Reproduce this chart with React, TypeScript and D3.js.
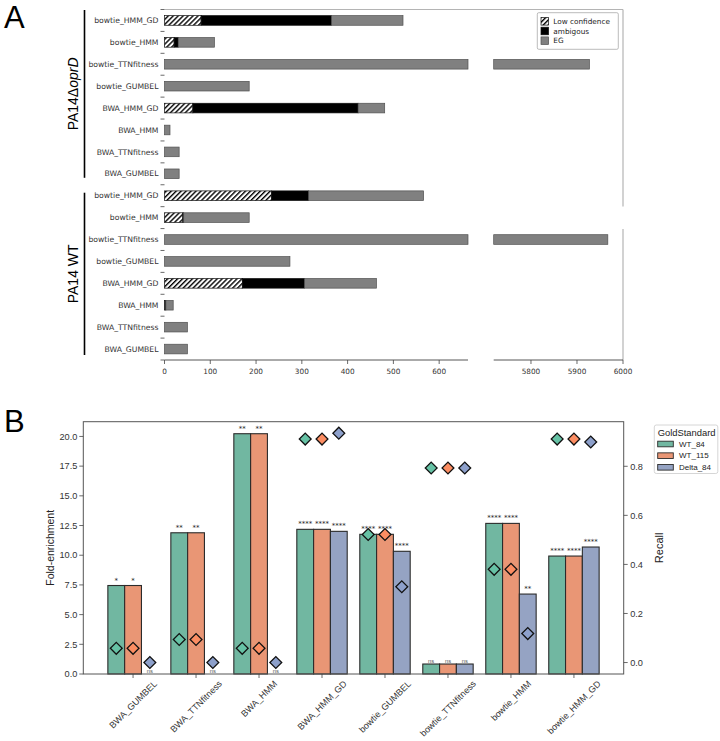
import * as d3 from 'd3';
import { useMemo } from 'react';

const WIDTH = 720;
const HEIGHT = 741;

// ---- Panel A: essential-gene calls per pipeline ----
const pipelines = [
    'bowtie_HMM_GD',
    'bowtie_HMM',
    'bowtie_TTNfitness',
    'bowtie_GUMBEL',
    'BWA_HMM_GD',
    'BWA_HMM',
    'BWA_TTNfitness',
    'BWA_GUMBEL',
];
const deltaLowConf = [80, 21, 0, 0, 62, 0, 0, 0];
const deltaAmbiguous = [285, 9, 0, 0, 361, 0, 0, 0];
const deltaEG = [156, 79, 5927, 185, 58, 12, 32, 32];
const wtLowConf = [234, 40, 0, 0, 170, 0, 0, 0];
const wtAmbiguous = [81, 2, 0, 0, 136, 3, 0, 0];
const wtEG = [251, 143, 5967, 274, 157, 16, 50, 50];
const leftTicksA = [0, 100, 200, 300, 400, 500, 600];
const rightTicksA = [5800, 5900, 6000];

// ---- Panel B: fold-enrichment (bars) and recall (diamonds) ----
const methodsB = [
    'BWA_GUMBEL',
    'BWA_TTNfitness',
    'BWA_HMM',
    'BWA_HMM_GD',
    'bowtie_GUMBEL',
    'bowtie_TTNfitness',
    'bowtie_HMM',
    'bowtie_HMM_GD',
];
const standards = ['WT_84', 'WT_115', 'Delta_84'];
const foldWT84 = [7.45, 11.89, 20.23, 12.18, 11.76, 0.84, 12.68, 9.93];
const foldWT115 = [7.45, 11.89, 20.23, 12.18, 11.76, 0.84, 12.68, 9.93];
const foldDelta84 = [0, 0, 0, 12.01, 10.33, 0.84, 6.73, 10.69];
const recallWT84 = [0.058, 0.094, 0.058, 0.911, 0.522, 0.793, 0.38, 0.911];
const recallWT115 = [0.058, 0.094, 0.058, 0.911, 0.522, 0.793, 0.38, 0.911];
const recallDelta84 = [0, 0, 0, 0.935, 0.309, 0.793, 0.118, 0.899];
const sigWT84 = ['*', '**', '**', '****', '****', 'ns', '****', '****'];
const sigWT115 = ['*', '**', '**', '****', '****', 'ns', '****', '****'];
const sigDelta84 = ['ns', 'ns', 'ns', '****', '****', 'ns', '**', '****'];
const foldTicks = [0, 2.5, 5, 7.5, 10, 12.5, 15, 17.5, 20];
const recallTicks = [0, 0.2, 0.4, 0.6, 0.8];

const markColors = ['#66c2a5', '#fc8d62', '#8da0cb'];
const barColors = ['#71b7a1', '#e99675', '#95a3c3'];

const FONT_A = '"DejaVu Sans", sans-serif';
const FONT_B = '"Liberation Sans", Arial, sans-serif';

// panel A frame
const A = { left: 164.5, breakL: 468, breakR: 493.7, right: 623, top: 9.5, bottom: 360 };
// panel B frame
const B = { left: 83.3, right: 623.7, top: 421.7, bottom: 674 };

let measureCtx: CanvasRenderingContext2D | null = null;
function textWidth(s: string, font: string) {
    if (!measureCtx) measureCtx = document.createElement('canvas').getContext('2d');
    if (!measureCtx) return s.length * 5;
    measureCtx.font = font;
    return measureCtx.measureText(s).width;
}

type Seg = { kind: 'low' | 'amb' | 'eg'; x0: number; x1: number };

function PanelA() {
    const rows = useMemo(() => {
        const make = (group: string, low: number[], amb: number[], eg: number[]) =>
            pipelines.map((p, i) => {
                const segs: Seg[] = [];
                let acc = 0;
                if (low[i] > 0) segs.push({ kind: 'low', x0: acc, x1: (acc += low[i]) });
                if (amb[i] > 0) segs.push({ kind: 'amb', x0: acc, x1: (acc += amb[i]) });
                if (eg[i] > 0) segs.push({ kind: 'eg', x0: acc, x1: (acc += eg[i]) });
                return { key: `${group}|${p}`, label: p, segs };
            });
        return [
            ...make('delta', deltaLowConf, deltaAmbiguous, deltaEG),
            ...make('wt', wtLowConf, wtAmbiguous, wtEG),
        ];
    }, []);

    const yScale = d3
        .scaleBand()
        .domain(rows.map((r) => r.key))
        .range([A.top, A.bottom])
        .paddingInner(0.56)
        .paddingOuter(0.28);
    const step = yScale.step();
    const xLeft = d3.scaleLinear().domain([0, 663]).range([A.left, A.breakL]);
    const xRight = d3.scaleLinear().domain([5719, 6000]).range([A.breakR, A.right]);

    const fillFor = (k: Seg['kind']) => (k === 'low' ? 'url(#hatch)' : k === 'amb' ? '#000' : '#808080');
    const strokeFor = (k: Seg['kind']) => (k === 'eg' ? '#505050' : '#111');

    const bars: JSX.Element[] = [];
    rows.forEach((r) => {
        const y = yScale(r.key) ?? 0;
        r.segs.forEach((s, j) => {
            const [lMin, lMax] = xLeft.domain();
            const [rMin, rMax] = xRight.domain();
            if (s.x0 < lMax) {
                const a = xLeft(Math.max(s.x0, lMin));
                const b = xLeft(Math.min(s.x1, lMax));
                bars.push(
                    <rect key={`${r.key}-${j}-l`} x={a} y={y} width={b - a} height={yScale.bandwidth()}
                        fill={fillFor(s.kind)} stroke={strokeFor(s.kind)} strokeWidth={0.7} />
                );
            }
            if (s.x1 > rMin) {
                const a = xRight(Math.max(s.x0, rMin));
                const b = xRight(Math.min(s.x1, rMax));
                bars.push(
                    <rect key={`${r.key}-${j}-r`} x={a} y={y} width={b - a} height={yScale.bandwidth()}
                        fill={fillFor(s.kind)} stroke={strokeFor(s.kind)} strokeWidth={0.7} />
                );
            }
        });
    });

    const boundaries = d3.range(rows.length + 1).map((i) => A.top + i * step);
    const groupSpans = [
        { label: 'delta', y0: A.top + 0.5, y1: A.top + 8 * step - 0.5 * step + 4 },
        { label: 'wt', y0: A.top + 8 * step + 0.5 * step - 3, y1: A.bottom - 5 },
    ];

    return (
        <g fontFamily={FONT_A}>
            <defs>
                <pattern id="hatch" patternUnits="userSpaceOnUse" width={3.5} height={6}
                    patternTransform="rotate(45)">
                    <rect width={3.5} height={6} fill="#fff" />
                    <line x1={0.7} y1={0} x2={0.7} y2={6} stroke="#000" strokeWidth={1.4} />
                </pattern>
            </defs>
            <text x={4} y={28.2} fontSize={31} fontFamily={FONT_B}>A</text>

            {/* frame: top and right spines */}
            <line x1={A.left} x2={A.right} y1={A.top} y2={A.top} stroke="#b4b4b4" strokeWidth={1.2} />
            <line x1={A.right} x2={A.right} y1={A.top} y2={206.5} stroke="#b4b4b4" strokeWidth={1.2} />
            <line x1={A.right} x2={A.right} y1={229} y2={A.bottom} stroke="#b4b4b4" strokeWidth={1.2} />

            {bars}

            {/* y ticks at row boundaries and pipeline labels */}
            {boundaries.map((b, i) => (
                <line key={`yt${i}`} x1={A.left - 4} x2={A.left} y1={b} y2={b} stroke="#444" strokeWidth={0.8} />
            ))}
            {rows.map((r) => (
                <text key={`yl${r.key}`} x={A.left - 6} y={(yScale(r.key) ?? 0) + yScale.bandwidth() / 2}
                    dy="0.35em" textAnchor="end" fontSize={7.7} fill="#333">
                    {r.label}
                </text>
            ))}

            {/* broken x axis */}
            <line x1={A.left} x2={A.breakL} y1={A.bottom} y2={A.bottom} stroke="#444" strokeWidth={0.9} />
            <line x1={A.breakR} x2={A.right} y1={A.bottom} y2={A.bottom} stroke="#444" strokeWidth={0.9} />
            {leftTicksA.map((t) => (
                <g key={`xl${t}`} transform={`translate(${xLeft(t)},${A.bottom})`}>
                    <line y2={4} stroke="#444" strokeWidth={0.8} />
                    <text y={13.5} textAnchor="middle" fontSize={7.3} fill="#333">{t}</text>
                </g>
            ))}
            {rightTicksA.map((t) => (
                <g key={`xr${t}`} transform={`translate(${xRight(t)},${A.bottom})`}>
                    <line y2={4} stroke="#444" strokeWidth={0.8} />
                    <text y={13.5} textAnchor="middle" fontSize={7.3} fill="#333">{t}</text>
                </g>
            ))}

            {/* group brackets */}
            {groupSpans.map((g) => (
                <line key={`gb${g.label}`} x1={84.5} x2={84.5} y1={g.y0} y2={g.y1} stroke="#000" strokeWidth={1.6} />
            ))}
            <text transform={`translate(78,${(groupSpans[0].y0 + groupSpans[0].y1) / 2}) rotate(-90)`}
                textAnchor="middle" fontSize={14} fontFamily={FONT_B}>
                PA14Δ<tspan fontStyle="italic">oprD</tspan>
            </text>
            <text transform={`translate(78,${(groupSpans[1].y0 + groupSpans[1].y1) / 2}) rotate(-90)`}
                textAnchor="middle" fontSize={14} fontFamily={FONT_B}>
                PA14 WT
            </text>

            {/* legend */}
            <rect x={537.3} y={12.7} width={81} height={36.6} rx={1.5} fill="#fff" stroke="#aaa" strokeWidth={0.8} />
            {[
                { name: 'Low confidence', kind: 'low' as const },
                { name: 'ambigous', kind: 'amb' as const },
                { name: 'EG', kind: 'eg' as const },
            ].map((e, i) => (
                <g key={e.name} transform={`translate(541,${21.3 + i * 9.7})`}>
                    <rect x={0} y={-3.8} width={7.6} height={7.6} fill={fillFor(e.kind)}
                        stroke={strokeFor(e.kind)} strokeWidth={0.7} />
                    <text x={12.3} dy="0.35em" fontSize={7.3} fill="#222">{e.name}</text>
                </g>
            ))}
        </g>
    );
}

function PanelB() {
    const series = [
        { fold: foldWT84, recall: recallWT84, sig: sigWT84 },
        { fold: foldWT115, recall: recallWT115, sig: sigWT115 },
        { fold: foldDelta84, recall: recallDelta84, sig: sigDelta84 },
    ];
    const foldMax = d3.max(series.flatMap((s) => s.fold)) ?? 1;
    const recallExt = d3.extent(series.flatMap((s) => s.recall)) as [number, number];
    const pad = (recallExt[1] - recallExt[0]) * 0.05;

    const x = d3.scaleLinear().domain([-0.79, 7.79]).range([B.left, B.right]);
    const yFold = d3.scaleLinear().domain([0, foldMax * 1.05]).range([B.bottom, B.top]);
    const yRecall = d3
        .scaleLinear()
        .domain([recallExt[0] - pad, recallExt[1] + pad])
        .range([B.bottom, B.top]);
    const barW = 0.8 / 3;
    const diamond = d3.symbol(d3.symbolSquare, 70)() ?? '';

    const tickFont = `9px ${FONT_B}`;

    return (
        <g fontFamily={FONT_B}>
            <text x={4} y={432} fontSize={31}>B</text>

            {/* bars */}
            {series.map((s, si) =>
                methodsB.map((m, i) => {
                    const cx = i + (si - 1) * barW;
                    const x0 = x(cx - barW / 2);
                    const x1 = x(cx + barW / 2);
                    return (
                        <rect key={`b${si}-${m}`} x={x0} y={yFold(s.fold[i])} width={x1 - x0}
                            height={yFold(0) - yFold(s.fold[i])} fill={barColors[si]}
                            stroke="#2b2b2b" strokeWidth={1.1} />
                    );
                })
            )}

            {/* significance labels */}
            {series.map((s, si) =>
                methodsB.map((m, i) => {
                    const cx = x(i + (si - 1) * barW);
                    const isNs = s.sig[i] === 'ns';
                    return (
                        <text key={`s${si}-${m}`} x={cx} y={yFold(s.fold[i]) - (isNs ? 1.5 : 3)}
                            textAnchor="middle" fontSize={isNs ? 5.8 : 7} fill={isNs ? '#555' : '#222'}
                            fontFamily={isNs ? FONT_B : FONT_A}>
                            {s.sig[i]}
                        </text>
                    );
                })
            )}

            {/* recall diamonds */}
            {series.map((s, si) =>
                methodsB.map((m, i) => (
                    <path key={`d${si}-${m}`} d={diamond}
                        transform={`translate(${x(i + (si - 1) * barW)},${yRecall(s.recall[i])}) rotate(45)`}
                        fill={markColors[si]} stroke="#111" strokeWidth={1.3} />
                ))
            )}

            {/* frame */}
            <rect x={B.left} y={B.top} width={B.right - B.left} height={B.bottom - B.top}
                fill="none" stroke="#555" strokeWidth={1} />

            {/* left axis */}
            {foldTicks.map((t) => (
                <g key={`fl${t}`} transform={`translate(${B.left},${yFold(t)})`}>
                    <line x2={-4} stroke="#444" strokeWidth={0.8} />
                    <text x={-6} dy="0.35em" textAnchor="end" fontSize={9.2} fill="#333">
                        {t.toFixed(1)}
                    </text>
                </g>
            ))}
            <text transform={`translate(54,${(B.top + B.bottom) / 2}) rotate(-90)`} textAnchor="middle"
                fontSize={10.5} fill="#222">
                Fold-enrichment
            </text>

            {/* right axis */}
            {recallTicks.map((t) => (
                <g key={`rr${t}`} transform={`translate(${B.right},${yRecall(t)})`}>
                    <line x2={4} stroke="#444" strokeWidth={0.8} />
                    <text x={6.5} dy="0.35em" fontSize={9.2} fill="#333">{t.toFixed(1)}</text>
                </g>
            ))}
            <text transform={`translate(663,${(B.top + B.bottom) / 2}) rotate(-90)`} textAnchor="middle"
                fontSize={11} fill="#222">
                Recall
            </text>

            {/* category axis */}
            {methodsB.map((m, i) => {
                const len = textWidth(m, tickFont) + 9;
                const cy = B.bottom + 5 + len * 0.3536;
                return (
                    <g key={`x${m}`}>
                        <line x1={x(i)} x2={x(i)} y1={B.bottom} y2={B.bottom + 4} stroke="#444" strokeWidth={0.8} />
                        <text transform={`translate(${x(i)},${cy}) rotate(-45)`} textAnchor="middle"
                            dy="0.35em" fontSize={9} fill="#333">
                            {m}
                        </text>
                    </g>
                );
            })}

            {/* legend */}
            <rect x={654.3} y={425} width={63.5} height={48.5} rx={2} fill="#fff" stroke="#ccc" strokeWidth={0.8} />
            <text x={657.7} y={435.8} fontSize={9.4} fill="#222">GoldStandard</text>
            {standards.map((s, si) => (
                <g key={s} transform={`translate(657.7,${444 + si * 11.65})`}>
                    <rect x={0} y={-2.8} width={15.6} height={5.6} fill={barColors[si]} stroke="#2b2b2b" strokeWidth={0.9} />
                    <text x={21.3} dy="0.35em" fontSize={8} fill="#222">{s}</text>
                </g>
            ))}
        </g>
    );
}

export default function App() {
    return (
        <svg width={WIDTH} height={HEIGHT} style={{ position: 'absolute', left: 0, top: 0, background: '#fff' }}>
            <rect width={WIDTH} height={HEIGHT} fill="#fff" />
            <PanelA />
            <PanelB />
        </svg>
    );
}
